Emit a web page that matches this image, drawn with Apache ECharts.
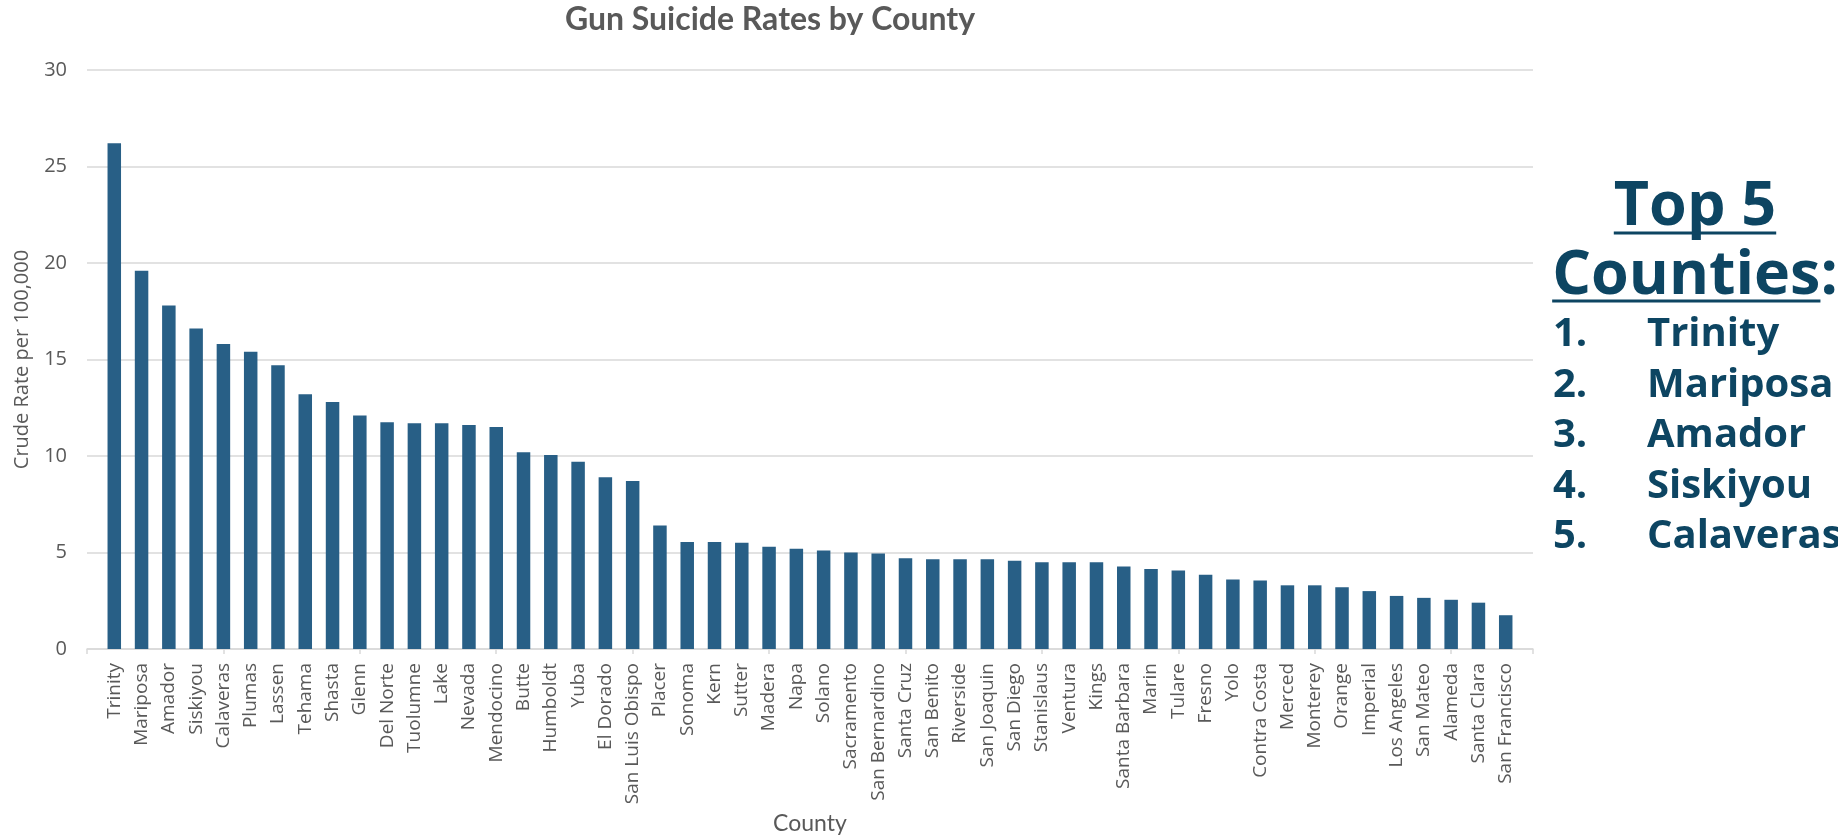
<!DOCTYPE html>
<html>
<head>
<meta charset="utf-8">
<script src="https://cdn.jsdelivr.net/npm/echarts@6/dist/echarts.min.js"></script>
<style>
html,body{margin:0;padding:0;background:#fff;}
#chart{width:1838px;height:835px;}
</style>
</head>
<body>
<div id="chart"></div>
<script>
const counties = ['Trinity','Mariposa','Amador','Siskiyou','Calaveras','Plumas','Lassen','Tehama','Shasta','Glenn',
  'Del Norte','Tuolumne','Lake','Nevada','Mendocino','Butte','Humboldt','Yuba','El Dorado','San Luis Obispo',
  'Placer','Sonoma','Kern','Sutter','Madera','Napa','Solano','Sacramento','San Bernardino','Santa Cruz',
  'San Benito','Riverside','San Joaquin','San Diego','Stanislaus','Ventura','Kings','Santa Barbara','Marin','Tulare',
  'Fresno','Yolo','Contra Costa','Merced','Monterey','Orange','Imperial','Los Angeles','San Mateo','Alameda',
  'Santa Clara','San Francisco'];
const rates = [26.2,19.6,17.8,16.6,15.8,15.4,14.7,13.2,12.8,12.1,
  11.75,11.7,11.7,11.6,11.5,10.2,10.05,9.7,8.9,8.7,
  6.4,5.55,5.55,5.5,5.3,5.2,5.1,5.0,4.95,4.7,
  4.65,4.65,4.65,4.57,4.5,4.5,4.5,4.27,4.15,4.07,
  3.85,3.6,3.55,3.3,3.3,3.2,3.0,2.75,2.65,2.55,
  2.4,1.75];
const yTicks = [0,5,10,15,20,25,30];
const chartTitle = 'Gun Suicide Rates by County';
const yName = 'Crude Rate per 100,000';
const xName = 'County';
const topHeading = ['Top 5', 'Counties'];
const topCounties = counties.slice(0, 5);

// pad the category axis with an empty slot on each side (axis spans one slot past the bars)
const cats = [''].concat(counties, ['']);
const vals = ['-'].concat(rates, ['-']);

const GRAY = '#595959';
const NAVY = '#0D4562';
const FONT = 'Open Sans';

function textWidth(txt, font) {
  const c = document.createElement('canvas').getContext('2d');
  c.font = font;
  return c.measureText(txt).width;
}

const chart = echarts.init(document.getElementById('chart'), null, {renderer: 'canvas'});

const HEAD_FONT = 'bold 61px "Open Sans"';
const LIST_FONT = 'bold 40px "Open Sans"';
const cx = 1695;
const wTop = textWidth(topHeading[0], HEAD_FONT);
const wCountiesColon = textWidth(topHeading[1] + ':', HEAD_FONT);
const wCounties = textWidth(topHeading[1], HEAD_FONT);
const cLeft = cx - wCountiesColon / 2;

const graphics = [];
graphics.push({type:'text', x: cx, y: 208, style:{text: topHeading[0], fill: NAVY, font: HEAD_FONT, align:'center', verticalAlign:'middle'}});
graphics.push({type:'line', shape:{x1: cx - wTop/2, y1: 233, x2: cx + wTop/2, y2: 233}, style:{stroke: NAVY, lineWidth: 3}});
graphics.push({type:'text', x: cLeft, y: 277, style:{text: topHeading[1] + ':', fill: NAVY, font: HEAD_FONT, align:'left', verticalAlign:'middle'}});
graphics.push({type:'line', shape:{x1: cLeft, y1: 301, x2: cLeft + wCounties, y2: 301}, style:{stroke: NAVY, lineWidth: 3}});
topCounties.forEach(function(name, i){
  const y = 335 + i * 50.5;
  graphics.push({type:'text', x: 1553, y: y, style:{text: (i+1) + '.', fill: NAVY, font: LIST_FONT, align:'left', verticalAlign:'middle'}});
  graphics.push({type:'text', x: 1647, y: y, style:{text: name, fill: NAVY, font: LIST_FONT, align:'left', verticalAlign:'middle'}});
});

chart.setOption({
  animation: false,
  backgroundColor: '#ffffff',
  title: {
    text: chartTitle,
    left: 770,
    top: 4,
    padding: 0,
    textAlign: 'center',
    textStyle: {color: GRAY, fontFamily: 'Lato', fontWeight: 'bold', fontSize: 32}
  },
  grid: {left: 87, right: 305, top: 70, bottom: 186, containLabel: false, outerBoundsMode: 'none'},
  xAxis: {
    type: 'category',
    data: cats,
    boundaryGap: false,
    name: xName,
    nameLocation: 'middle',
    nameGap: 161,
    nameTextStyle: {color: GRAY, fontFamily: 'Lato', fontSize: 23},
    axisLine: {show: true, lineStyle: {color: '#D9D9D9', width: 1.5}},
    axisTick: {show: true, interval: 4, length: 5, lineStyle: {color: '#D9D9D9', width: 1.5}},
    axisLabel: {interval: 0, rotate: 90, margin: 14, color: GRAY, fontFamily: FONT, fontSize: 19},
    splitLine: {show: false}
  },
  yAxis: {
    type: 'value',
    min: 0,
    max: 30,
    interval: 5,
    name: yName,
    nameLocation: 'middle',
    nameGap: 55,
    nameTextStyle: {color: GRAY, fontFamily: FONT, fontSize: 20},
    axisLine: {show: false},
    axisTick: {show: false},
    axisLabel: {color: GRAY, fontFamily: FONT, fontSize: 20, margin: 20,
      formatter: function(v){ return yTicks.indexOf(v) >= 0 ? String(v) : ''; }},
    splitLine: {lineStyle: {color: '#D9D9D9', width: 1.5}}
  },
  series: [{
    type: 'bar',
    data: vals,
    barWidth: 13.5,
    itemStyle: {color: '#285F86'}
  }],
  graphic: graphics
});
</script>
</body>
</html>
